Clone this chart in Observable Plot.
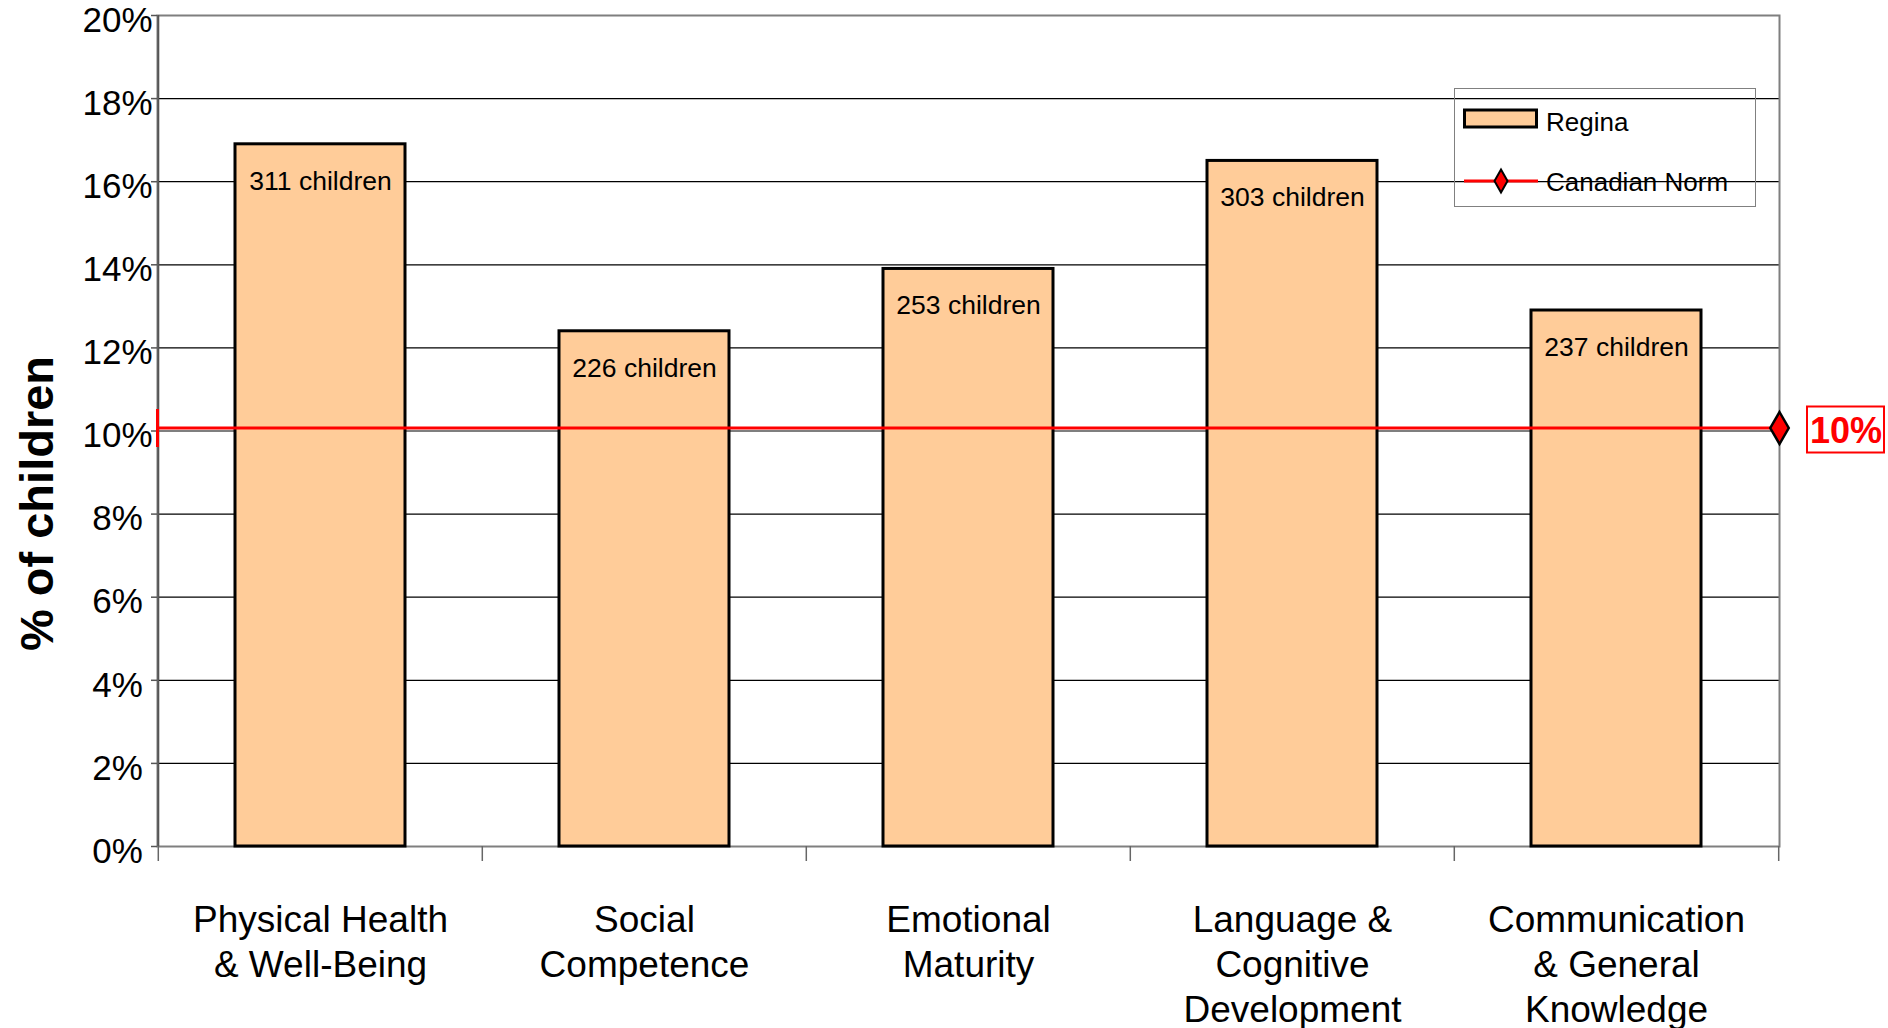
<!DOCTYPE html>
<html>
<head>
<meta charset="utf-8">
<script src="https://cdn.jsdelivr.net/npm/d3@7"></script>
<script src="https://cdn.jsdelivr.net/npm/@observablehq/plot@0.6"></script>
<style>
  html, body { margin: 0; padding: 0; background: #fff; }
  #wrap { position: relative; width: 1888px; height: 1028px; font-family: "Liberation Sans", Arial, sans-serif; }
  #legend { position: absolute; left: 1454px; top: 88px; width: 302px; height: 119px; border: 1.5px solid #808080; box-sizing: border-box; background: transparent; }
</style>
</head>
<body>
<div id="wrap"></div>
<script>
// ---- data ----
const categories = ["Physical Health & Well-Being", "Social Competence", "Emotional Maturity", "Language & Cognitive Development", "Communication & General Knowledge"];
const axisLabels = ["Physical Health\n& Well-Being", "Social\nCompetence", "Emotional\nMaturity", "Language &\nCognitive\nDevelopment", "Communication\n& General\nKnowledge"];
const reginaPct = [16.9, 12.4, 13.9, 16.5, 12.9];
const childCounts = [311, 226, 253, 303, 237];
const canadianNorm = 10;
const yTicks = [0, 2, 4, 6, 8, 10, 12, 14, 16, 18, 20];
const seriesNames = ["Regina", "Canadian Norm"];
const yTitle = "% of children";

const rows = categories.map((c, i) => ({cat: c, pct: reginaPct[i], n: childCounts[i], label: axisLabels[i]}));

const W = 1888, H = 1028;
const mL = 157, mR = 109, mT = 15, mB = 182;
const frameW = W - mL - mR, frameH = H - mT - mB;
const step = frameW / categories.length;
const pInner = 0.475;
const font = "'Liberation Sans', Arial, sans-serif";
const red = "#ff0000";

const lineSymbol = { draw(ctx, size) { const h = Math.sqrt(size / Math.PI); ctx.moveTo(0, -h); ctx.lineTo(0, h); } };

const chart = Plot.plot({
  width: W, height: H,
  marginLeft: mL, marginRight: mR, marginTop: mT, marginBottom: mB,
  style: { fontFamily: font, background: "#fff", color: "#000", overflow: "visible" },
  x: { type: "band", domain: categories, paddingInner: pInner, paddingOuter: pInner / 2, axis: null },
  y: { domain: [0, 20], axis: null },
  marks: [
    // gridlines
    Plot.ruleY(yTicks.slice(1, -1), { stroke: "#000", strokeWidth: 1.2 }),
    // frame
    Plot.frame({ stroke: "#7f7f7f", strokeWidth: 2 }),
    Plot.ruleX([categories[0]], { x: d => d, dx: -step / 2, stroke: "#555", strokeWidth: 2 }),
    // y tick marks
    Plot.ruleY(yTicks, { stroke: "#555", strokeWidth: 1.5, insetRight: frameW, insetLeft: -6 }),
    // category boundary ticks below axis
    Plot.ruleX(categories, { x: d => d, dx: -step / 2, stroke: "#666", strokeWidth: 1.5, insetTop: frameH, insetBottom: -15 }),
    Plot.ruleX([categories[categories.length - 1]], { x: d => d, dx: step / 2, stroke: "#666", strokeWidth: 1.5, insetTop: frameH, insetBottom: -15 }),
    // bars
    Plot.barY(rows, { x: "cat", y: "pct", fill: "#ffcc99", stroke: "#000", strokeWidth: 3 }),
    // bar count labels
    Plot.text(rows, { x: "cat", y: "pct", text: d => `${d.n} children`, dy: 37, lineAnchor: "middle", fontSize: 26.5, fill: "#000" }),
    // canadian norm line
    Plot.ruleY([canadianNorm], { stroke: red, strokeWidth: 3, dy: -3 }),
    Plot.dot([canadianNorm], { y: d => d, frameAnchor: "left", symbol: lineSymbol, r: 19, stroke: red, strokeWidth: 3, dy: -3 }),
    Plot.dot([canadianNorm], { y: d => d, frameAnchor: "right", symbol: "diamond", r: 9.7, fill: red, stroke: "#000", strokeWidth: 2.5, dy: -3 }),
    // norm value label
    Plot.text([canadianNorm], { y: d => d, frameAnchor: "right", dx: 66.5, text: d => `${d}%`, fill: red, fontWeight: "bold", fontSize: 36, lineAnchor: "middle", textAnchor: "middle" }),
    // y tick labels
    Plot.text(yTicks, { y: d => d, text: d => `${d}%`, frameAnchor: "left", dx: -40, dy: 5, textAnchor: "middle", lineAnchor: "middle", fontSize: 35, fill: "#000" }),
    // x category labels
    Plot.text(rows, { x: "cat", text: "label", frameAnchor: "bottom", lineAnchor: "top", dy: 53, fontSize: 37, lineHeight: 1.22, fill: "#000" })
  ]
});

document.getElementById("wrap").appendChild(chart);

const svg = d3.select(chart);
// y axis title
svg.append("text")
  .attr("transform", `translate(36,${mT + frameH / 2 + 73}) rotate(-90)`)
  .attr("text-anchor", "middle").attr("dominant-baseline", "central")
  .attr("font-family", font).attr("font-size", 47).attr("font-weight", "bold").attr("fill", "#000")
  .text(yTitle);

// box around the norm value label, positioned from the y scale
const ys = chart.scale("y");
const yNorm = ys.apply(canadianNorm);
svg.append("rect")
  .attr("x", W - mR + 28).attr("y", yNorm - 24)
  .attr("width", 77).attr("height", 46)
  .attr("fill", "none").attr("stroke", red).attr("stroke-width", 2);

// legend overlay
const legend = document.createElement("div");
legend.id = "legend";
legend.innerHTML = `
<svg width="302" height="119" style="position:absolute;left:0;top:0;overflow:visible" font-family="${font}">
  <rect x="9.5" y="21" width="72" height="17" fill="#ffcc99" stroke="#000" stroke-width="3"/>
  <text x="91" y="41.5" font-size="26" fill="#000">${seriesNames[0]}</text>
  <line x1="9" x2="83" y1="92" y2="92" stroke="${red}" stroke-width="3"/>
  <path d="M46,80.5 L52.5,92 L46,103.5 L39.5,92 Z" fill="${red}" stroke="#000" stroke-width="2"/>
  <text x="91" y="102" font-size="26" fill="#000">${seriesNames[1]}</text>
</svg>`;
document.getElementById("wrap").appendChild(legend);
</script>
</body>
</html>
